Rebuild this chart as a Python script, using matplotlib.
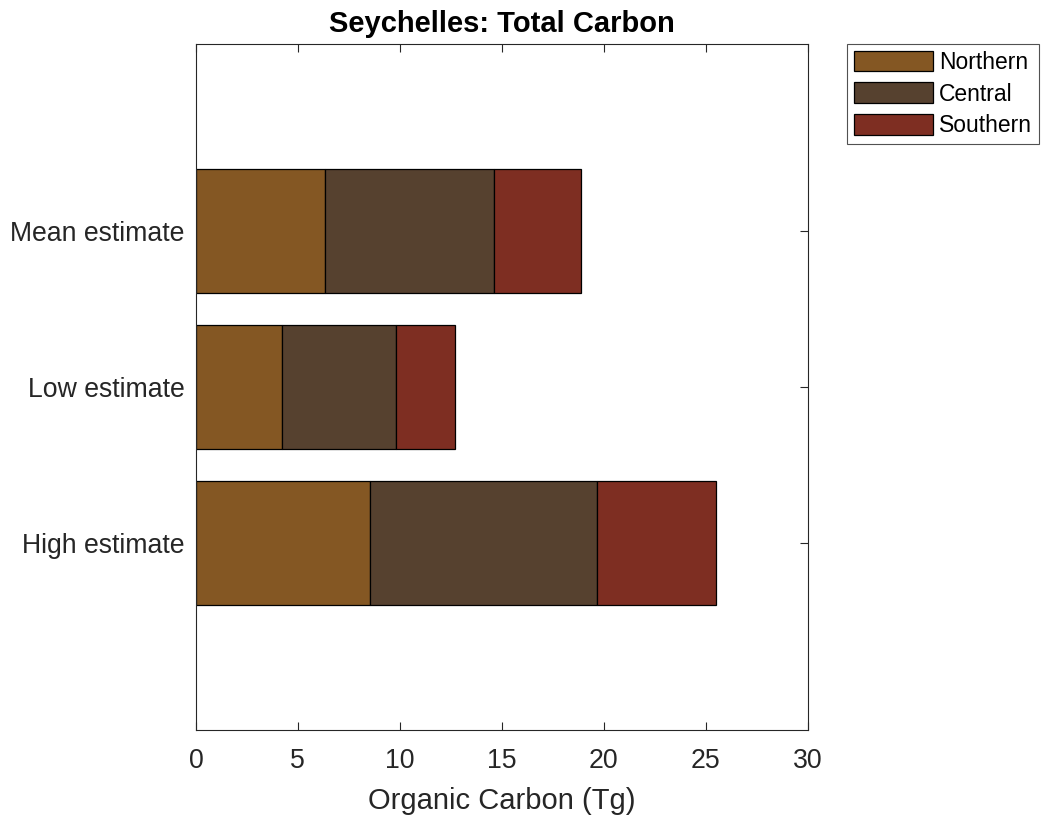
import numpy as np
import matplotlib
matplotlib.use("Agg")
import matplotlib.pyplot as plt

plt.rcParams['font.family'] = ['Liberation Sans', 'DejaVu Sans']

# data
categories = ["High estimate", "Low estimate", "Mean estimate"]
regions = ["Northern", "Central", "Southern"]
northern = [8.53, 4.22, 6.33]
central = [11.15, 5.58, 8.27]
southern = [5.80, 2.90, 4.28]
colors = ["#845723", "#56412F", "#7E2E22"]

fig = plt.figure(figsize=(10.42, 8.15), dpi=100)
ax = fig.add_axes([0.188, 0.1043, 0.5873, 0.8417])

pos = np.arange(1, len(categories) + 1)
left = np.zeros(len(categories))
for vals, name, c in zip([northern, central, southern], regions, colors):
    ax.barh(pos, vals, height=0.8, left=left, color=c, edgecolor="black",
            linewidth=0.9, label=name)
    left = left + np.array(vals)

ax.set_xlim(0, 30)
ax.set_ylim(-0.2, 4.2)
ax.set_xticks(np.arange(0, 31, 5))
ax.set_yticks(pos)
ax.set_yticklabels(categories)

ax.tick_params(direction="in", top=True, right=True, length=6, width=0.8,
               colors="#262626", labelsize=19.2)
ax.tick_params(axis="x", pad=13)
ax.tick_params(axis="y", left=False, pad=8)
for s in ax.spines.values():
    s.set_color("#262626")
    s.set_linewidth(0.8)

ax.set_xlabel("Organic Carbon (Tg)", fontsize=21, color="#262626", labelpad=9)
ax.set_title("Seychelles: Total Carbon", fontsize=21, fontweight="bold", pad=9)

leg = ax.legend(loc="upper left", bbox_to_anchor=(847 / 1042, 1 - 44 / 815),
                bbox_transform=fig.transFigure, fontsize=16.5, frameon=True,
                fancybox=False, edgecolor="#262626", handlelength=3.45,
                handleheight=1.0, handletextpad=0.26, labelspacing=0.37,
                borderpad=0.3, borderaxespad=0)
leg.get_frame().set_linewidth(0.8)

fig.savefig("out.png", dpi=100, facecolor="white")
